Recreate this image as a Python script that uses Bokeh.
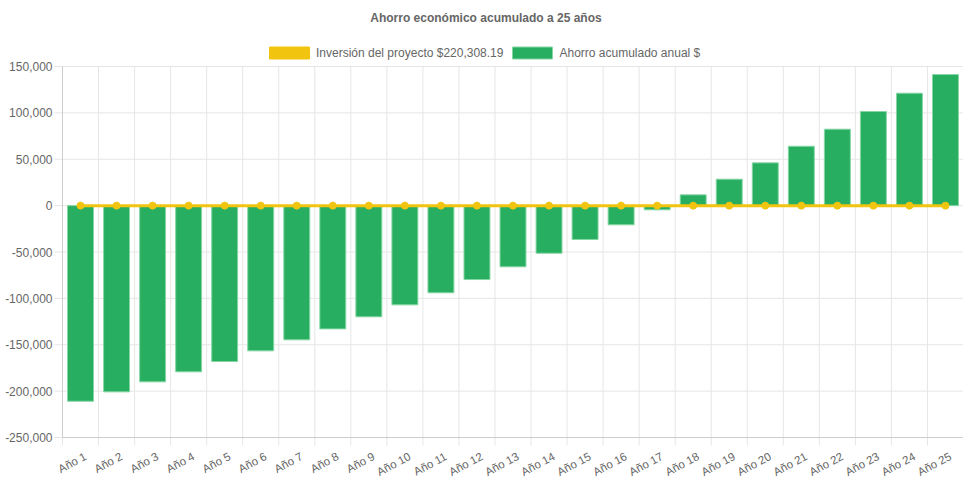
import math
from bokeh.plotting import figure
from bokeh.models import ColumnDataSource, Range1d, Legend, LegendItem, Label
from bokeh.embed import file_html
from bokeh.resources import INLINE

years = [f"Año {i}" for i in range(1, 26)]
ahorro = [-210900, -200800, -190000, -179200, -168100, -156600, -144700,
          -132900, -119900, -107000, -94000, -79700, -66000, -51300, -36500,
          -20700, -4500, 11600, 28500, 46100, 64000, 82400, 101500, 121200,
          141300]
inversion = [0] * 25
y_ticks = [-250000, -200000, -150000, -100000, -50000, 0, 50000, 100000, 150000]
y_tick_labels = [f"{v:,}" for v in y_ticks]
title_text = "Ahorro económico acumulado a 25 años"
legend_labels = ["Inversión del proyecto $220,308.19", "Ahorro acumulado anual $"]

FONT = "Liberation Sans"
GREY = "#666666"
GREEN = "#27ae60"
GREEN_EDGE = "#86d6a4"
YELLOW = "#f1c40f"
GRID = "#e6e6e6"
AXIS = "#cccccc"

W, H = 963, 477
n = len(years)
# pixel layout (figure coordinates) of the plot area
Y_MIN, Y_MAX = y_ticks[0], y_ticks[-1]
PX_TOP, PX_BOTTOM = 66, 437          # where Y_MAX / Y_MIN sit
PX_LEFT, PX_RIGHT = 62, W            # where category 0 / n boundaries sit
ky = (PX_BOTTOM - PX_TOP) / (Y_MAX - Y_MIN)   # px per unit (y)
kx = (PX_RIGHT - PX_LEFT) / n                 # px per unit (x)
y_end = Y_MAX + PX_TOP / ky
y_start = Y_MIN - (H - PX_BOTTOM) / ky
x_start = -PX_LEFT / kx
tick_y = 8 / ky
tick_x = 8 / kx

xs = [i + 0.5 for i in range(n)]
src = ColumnDataSource(dict(x=xs, ahorro=ahorro, inv=inversion, label=years))
ysrc = ColumnDataSource(dict(y=y_ticks, label=y_tick_labels))

p = figure(width=W, height=H, output_backend="svg", toolbar_location=None,
           x_range=Range1d(x_start, n), y_range=Range1d(y_start, y_end),
           min_border_left=0, min_border_right=0, min_border_top=0,
           min_border_bottom=0)
p.outline_line_color = None
p.xaxis.visible = False
p.yaxis.visible = False
p.xgrid.visible = False
p.ygrid.visible = False

# grid lines (with tick marks outside the plot area)
bx = list(range(n + 1))
p.segment(x0=bx, y0=[Y_MIN - tick_y] * (n + 1), x1=bx, y1=[Y_MAX] * (n + 1),
          line_color=GRID, line_width=1)
p.segment(x0=[-tick_x] * len(y_ticks), y0=y_ticks, x1=[n] * len(y_ticks),
          y1=y_ticks, line_color=GRID, line_width=1)
# axis lines
p.segment(x0=[0, 0], y0=[Y_MIN, Y_MIN], x1=[n, 0], y1=[Y_MIN, Y_MAX],
          line_color=AXIS, line_width=1)

bars = p.vbar(x="x", top="ahorro", bottom=0, width=0.72, source=src,
              fill_color=GREEN, line_color=GREEN_EDGE, line_width=1)
line = p.line(x="x", y="inv", source=src, line_color=YELLOW, line_width=3)
pts = p.scatter(x="x", y="inv", source=src, size=7, fill_color=YELLOW,
                line_color=YELLOW)

# category labels
p.text(x="x", y=Y_MIN, text="label", source=src, angle=math.radians(28),
       text_align="right", text_baseline="middle", x_offset=5, y_offset=18,
       text_font={"value": FONT}, text_font_size="11.5px", text_color=GREY)
# value labels
p.text(x=0, y="y", text="label", source=ysrc, text_align="right",
       text_baseline="middle", x_offset=-10, y_offset=0,
       text_font={"value": FONT}, text_font_size="12px", text_color=GREY)

# legend (box glyphs)
leg_y = p.rect(x=[-100], y=[0], width=1, height=1, fill_color=YELLOW, line_color=YELLOW)
leg_g = p.rect(x=[-100], y=[0], width=1, height=1, fill_color=GREEN, line_color=GREEN_EDGE)
legend = Legend(items=[
    LegendItem(label=legend_labels[0], renderers=[leg_y]),
    LegendItem(label=legend_labels[1], renderers=[leg_g]),
], orientation="horizontal", glyph_width=50, glyph_height=15,
    location=(264, 417), label_text_font=FONT, label_text_font_size="12px",
    label_text_color=GREY, border_line_color=None, spacing=4,
    label_standoff=2, padding=2, margin=0, background_fill_alpha=0)
p.add_layout(legend)

# title
p.add_layout(Label(x=n * 0.47, y=Y_MAX + (PX_TOP - 17) / ky, text=title_text,
                   text_align="center", text_baseline="middle",
                   text_font=FONT, text_font_size="12px",
                   text_font_style="bold", text_color=GREY))

open("out.html", "w").write(file_html(p, INLINE))
